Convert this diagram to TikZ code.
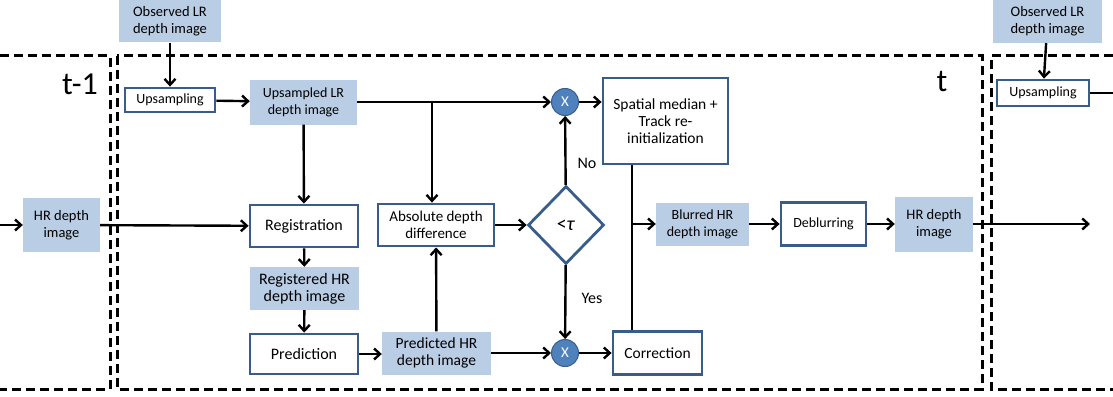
\documentclass[tikz,border=0pt]{standalone}
\usepackage{fontspec}
\setmainfont{Carlito}
\usetikzlibrary{shapes.geometric,arrows.meta}
\definecolor{bdr}{RGB}{56,93,138}
\definecolor{lb}{RGB}{185,205,229}
\definecolor{cb}{RGB}{79,129,189}
\newcommand{\fsz}[1]{\fontsize{#1}{17}\selectfont}
\tikzset{
  proc/.style={draw=bdr, line width=2.8pt, fill=white, inner sep=0pt, align=center, font=\fsz{15}},
  dat/.style={fill=lb, inner sep=0pt, align=center, font=\fsz{14.5}},
  mult/.style={circle, fill=cb, draw=bdr, line width=1pt, minimum size=27pt, inner sep=0pt, text=white, font=\fsz{15}},
  dec/.style={diamond, draw=bdr, line width=2.8pt, fill=white, inner sep=0pt, minimum width=76pt, minimum height=78pt, font=\fsz{20}},
  arr/.style={-{Straight Barb[length=6pt,width=11pt,line width=2.4pt]}, line width=2.4pt},
  ln/.style={line width=2.4pt},
  frame/.style={line width=3pt, dash pattern=on 9pt off 5pt},
  lbl/.style={font=\fsz{16}, inner sep=0pt}
}
\begin{document}
\begin{tikzpicture}[x=1pt,y=-1pt]
\useasboundingbox (0,0) rectangle (1113,396);
% frames
\draw[frame] (0,56) -- (110,56) -- (110,389) -- (0,389);
\draw[frame] (117,56) rectangle (982,389);
\draw[frame] (1113,56) -- (991,56) -- (991,389) -- (1113,389);
\node[font=\fsz{32}, inner sep=0pt] (tm1) at (80,84) {t-1};
\node[font=\fsz{32}, inner sep=0pt] (tt) at (942,82) {t};
% nodes
\node[dat, minimum width=102pt, minimum height=43pt] (obsL) at (170,21) {Observed LR\\depth image};
\node[proc, minimum width=90pt, minimum height=24pt, font=\fsz{14}] (upL) at (170,100) {Upsampling};
\node[dat, minimum width=107pt, minimum height=45pt, font=\fsz{14}] (upsd) at (303.5,102) {Upsampled LR\\depth image};
\node[proc, minimum width=108pt, minimum height=42pt, font=\fsz{16}] (reg) at (304,226) {Registration};
\node[dat, minimum width=109pt, minimum height=43pt, font=\fsz{16}] (regd) at (304.5,288.5) {Registered HR\\depth image};
\node[proc, minimum width=108pt, minimum height=40pt, font=\fsz{16}] (pred) at (304,354) {Prediction};
\node[dat, minimum width=109pt, minimum height=43pt, font=\fsz{15.5}] (predd) at (436.5,353) {Predicted HR\\depth image};
\node[proc, minimum width=116pt, minimum height=42pt] (abs) at (436,225) {Absolute depth\\difference};
\node[dec] (thr) at (566,225) {{<}\textit{τ}};
\node[mult] (mxT) at (565,102) {X};
\node[mult] (mxB) at (565,353) {X};
\node[proc, minimum width=125pt, minimum height=86pt, font=\fsz{15.5}] (spat) at (665.5,121) {Spatial median +\\Track re-\\initialization};
\node[proc, minimum width=89pt, minimum height=43pt, font=\fsz{15.5}] (corr) at (657.5,353) {Correction};
\node[dat, minimum width=93pt, minimum height=43pt, font=\fsz{14}] (blur) at (702.5,224) {Blurred HR\\depth image};
\node[proc, minimum width=85pt, minimum height=43pt, font=\fsz{14}] (debl) at (823.5,224) {Deblurring};
\node[dat, minimum width=78pt, minimum height=55pt] (hrR) at (934,224) {HR depth\\image};
\node[dat, minimum width=77pt, minimum height=54pt] (hrL) at (61.5,225) {HR depth\\image};
\node[dat, minimum width=109pt, minimum height=43pt] (obsR) at (1047.5,21.5) {Observed LR\\depth image};
\node[proc, minimum width=92pt, minimum height=26pt, font=\fsz{14}] (upR) at (1043,93) {Upsampling};
\node[lbl] (no) at (587,163) {No};
\node[lbl] (yes) at (592,298) {Yes};
% helper coordinates
\coordinate (inL) at (0,225);
\coordinate (b1) at (432,102);
\coordinate (jx) at (632,224);
\coordinate (outR) at (1090,224);
\coordinate (edgeR) at (1113,93);
% connectors
\draw[arr] (obsL) -- (upL);
\draw[arr] (upL) -- (upsd);
\draw[arr] (upsd) -- (mxT);
\draw[arr] (b1) -- (b1 |- abs.north);
\draw[arr] (upsd) -- (reg);
\draw[arr] (inL) -- (hrL.west);
\draw[arr] (hrL) -- (reg);
\draw[arr] (reg) -- (regd);
\draw[arr] (regd) -- (pred);
\draw[arr] (pred.east) -- (predd.west |- pred.east);
\draw[arr] (predd) -- (abs);
\draw[arr] (predd) -- (mxB);
\draw[arr] (abs) -- (thr);
\draw[arr] (thr) -- (mxT);
\draw[arr] (thr) -- (mxB);
\draw[arr] (mxT) -- (mxT -| spat.west);
\draw[arr] (mxB) -- (corr);
\draw[ln] (jx |- spat.south) -- (jx |- corr.north);
\draw[arr] (jx) -- (blur);
\draw[arr] (blur) -- (debl);
\draw[arr] (debl) -- (hrR);
\draw[arr] (hrR) -- (outR);
\draw[arr] (obsR) -- (upR);
\draw[ln] (upR) -- (edgeR);
\end{tikzpicture}
\end{document}
